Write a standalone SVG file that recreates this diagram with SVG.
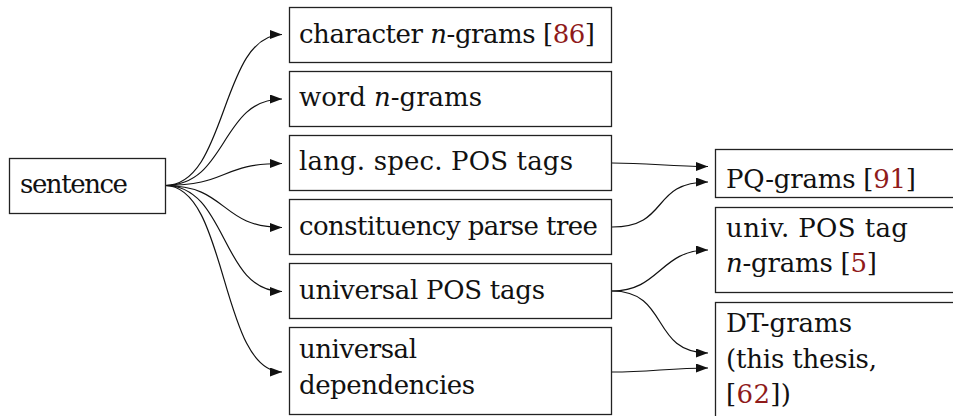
<svg xmlns="http://www.w3.org/2000/svg" width="953" height="416" viewBox="0 0 953 416">
<style>
.box{fill:#fff;stroke:#222;stroke-width:1.3}
.t{font-family:'DejaVu Serif',serif;font-size:26px;fill:#111}
.i{font-style:italic}
.c{fill:#8f1a1a}
.e{fill:none;stroke:#111;stroke-width:1.2;marker-end:url(#ah)}
</style>
<defs>
<marker id="ah" markerWidth="12" markerHeight="9" refX="12" refY="4.5" orient="auto" markerUnits="userSpaceOnUse">
<path d="M0,0 L12,4.5 L0,9 Z" fill="#111"/>
</marker>
</defs>
<rect width="953" height="416" fill="#fff"/>
<g id="connectors">
<path class="e" d="M165,185.5 C228,185.5 220,34.5 282,34.5"/>
<path class="e" d="M165,185.5 C228,185.5 220,99 282,99"/>
<path class="e" d="M165,185.5 C228,185.5 220,163.5 282,163.5"/>
<path class="e" d="M165,185.5 C228,185.5 220,227.5 282,227.5"/>
<path class="e" d="M165,185.5 C228,185.5 220,291.5 282,291.5"/>
<path class="e" d="M165,185.5 C228,185.5 220,372 282,372"/>
<path class="e" d="M612,163 C650,163 670,166.5 708,166.5"/>
<path class="e" d="M612,227 C670,227 650,182 708,182"/>
<path class="e" d="M612,291 C660,291 660,250 708,250"/>
<path class="e" d="M612,291 C670,291 650,353 708,353"/>
<path class="e" d="M612,372 C650,372 670,368 708,368"/>
</g>
<g id="sentence">
<rect class="box" x="9.5" y="158.5" width="156" height="55"/>
<text class="t" x="20" y="193" textLength="108">sentence</text>
</g>
<g id="char-ngrams">
<rect class="box" x="289.5" y="7.5" width="322" height="55"/>
<text class="t" x="299" y="43" textLength="296">character <tspan class="i">n</tspan>-grams [<tspan class="c">86</tspan>]</text>
</g>
<g id="word-ngrams">
<rect class="box" x="289.5" y="71.5" width="322" height="55"/>
<text class="t" x="299" y="106" textLength="183">word <tspan class="i">n</tspan>-grams</text>
</g>
<g id="lang-pos">
<rect class="box" x="289.5" y="135.5" width="322" height="55"/>
<text class="t" x="299" y="170" textLength="274">lang.  spec.  POS tags</text>
</g>
<g id="constituency">
<rect class="box" x="289.5" y="199.5" width="322" height="55"/>
<text class="t" x="299" y="235" textLength="299">constituency parse tree</text>
</g>
<g id="univ-pos">
<rect class="box" x="289.5" y="263.5" width="322" height="55"/>
<text class="t" x="299" y="299" textLength="246">universal POS tags</text>
</g>
<g id="univ-dep">
<rect class="box" x="289.5" y="327.5" width="322" height="87"/>
<text class="t" x="299" y="358" textLength="118">universal</text>
<text class="t" x="299" y="394" textLength="176">dependencies</text>
</g>
<g id="pq-grams">
<rect class="box" x="715.5" y="149.5" width="260" height="48"/>
<text class="t" x="726" y="188" textLength="190">PQ-grams [<tspan class="c">91</tspan>]</text>
</g>
<g id="upos-ngrams">
<rect class="box" x="715.5" y="207.5" width="260" height="85"/>
<text class="t" x="726" y="237" textLength="182">univ.  POS tag</text>
<text class="t" x="726" y="272" textLength="151"><tspan class="i">n</tspan>-grams [<tspan class="c">5</tspan>]</text>
</g>
<g id="dt-grams">
<rect class="box" x="715.5" y="302.5" width="260" height="130"/>
<text class="t" x="726" y="332" textLength="126">DT-grams</text>
<text class="t" x="726" y="368" textLength="151">(this thesis,</text>
<text class="t" x="726" y="403" textLength="65">[<tspan class="c">62</tspan>])</text>
</g>
</svg>
